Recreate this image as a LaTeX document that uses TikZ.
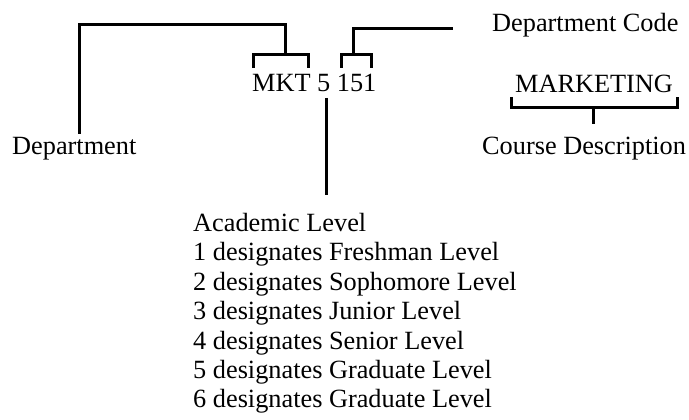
\documentclass[tikz,border=0pt]{standalone}
\usepackage{fontspec}
\setmainfont{Liberation Serif}
\begin{document}
\begin{tikzpicture}[x=1pt,y=-1pt,
  txt/.style={inner sep=0pt, anchor=base west, font=\fontsize{26.3}{29}\selectfont},
  conn/.style={line width=3pt, line cap=butt, line join=miter}]
\useasboundingbox (0,0) rectangle (689,420);
% texts
\node[txt] (code) at (252,92) {MKT 5 151};
\node[txt] (dcode) at (492,32) {Department Code};
\node[txt] (mktg) at (515,93) {MARKETING};
\node[txt] (dept) at (12,154) {Department};
\node[txt] (cdesc) at (482,154) {Course Description};
\node[txt, align=left, anchor=north west, font=\fontsize{26.3}{29.4}\selectfont] (acad) at (193,213) {Academic Level\\
1 designates Freshman Level\\
2 designates Sophomore Level\\
3 designates Junior Level\\
4 designates Senior Level\\
5 designates Graduate Level\\
6 designates Graduate Level};
% coordinates
\coordinate (deptTop) at (79,134);
\coordinate (dcodeEnd) at (453,29);
\coordinate (fiveBot) at (326,98);
\coordinate (acadTop) at (326,195);
\coordinate (mktStem) at (593,124);
% Department bracket over MKT
\draw[conn] (253,68) -- (253,55) -- (308,55) -- (308,68);
\draw[conn] (285,55) -- (285,25) -- (79,25) -- (deptTop);
% Department code bracket over 151
\draw[conn] (341,68) -- (341,55) -- (371,55) -- (371,68);
\draw[conn] (353,55) -- (353,29) -- (dcodeEnd);
% Academic level stem
\draw[conn] (fiveBot) -- (acadTop);
% Course description bracket
\draw[conn] (511,97) -- (511,108) -- (677,108) -- (677,97);
\draw[conn] (593,108) -- (mktStem);
\end{tikzpicture}
\end{document}
